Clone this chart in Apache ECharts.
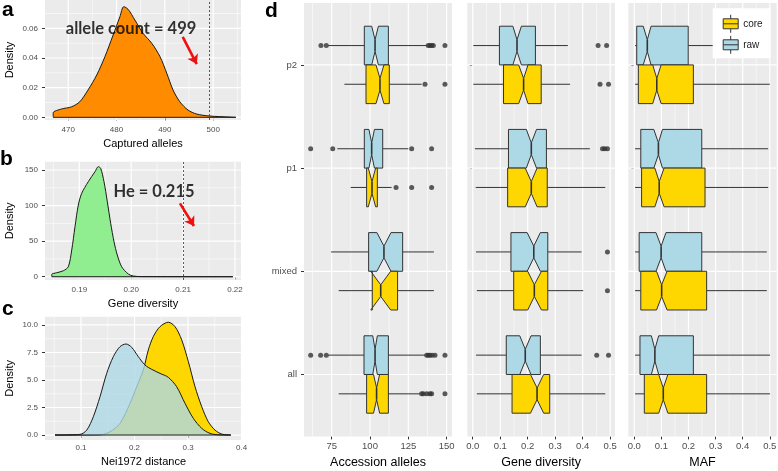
<!DOCTYPE html>
<html><head><meta charset="utf-8">
<script src="https://cdn.jsdelivr.net/npm/echarts@6/dist/echarts.min.js"></script>
<style>html,body{margin:0;padding:0;background:#fff}#c{width:778px;height:471px}</style>
</head><body><div id="c"></div>
<script>
// ---------------- data ----------------
// panel a: density of captured alleles
const A_X = [466.9, 466.9, 468.6, 470.7, 472.4, 474.1, 475.9, 477.6, 479.3, 480.7, 481.5, 482.4, 483.8, 485.5, 487.3, 489.0, 490.4, 491.7, 493.1, 494.8, 496.6, 499.2, 503.5, 504.7];
const A_Y = [0, 0.0031, 0.0056, 0.0071, 0.0105, 0.0184, 0.0285, 0.0409, 0.0555, 0.0678, 0.0746, 0.0728, 0.0656, 0.0566, 0.0499, 0.0409, 0.0297, 0.0184, 0.0105, 0.0049, 0.0022, 0.0009, 0.0002, 0];
const A_XTICKS = [470, 480, 490, 500];
const A_YTICKS = [0, 0.02, 0.04, 0.06];
const A_VLINE = 499.2;
const A_NOTE = 'allele count = 499';
const A_NOTE_AT = [483.0, 0.06];
const A_ARROW = [[493.7, 0.0543], [496.6, 0.0359]];

// panel b: density of gene diversity
const B_X = [0.1847, 0.1847, 0.18565, 0.18692, 0.18788, 0.18854, 0.18917, 0.18981, 0.19046, 0.19173, 0.19302, 0.19366, 0.19412, 0.19476, 0.1954, 0.19605, 0.19669, 0.19732, 0.19817, 0.19944, 0.2004, 0.2020, 0.2196];
const B_Y = [0, 3.5, 5.6, 8.4, 14, 37.5, 70.3, 100.8, 117.2, 133.6, 147.6, 154.7, 152.4, 133.6, 105.4, 75, 49.2, 30.5, 14, 3.8, 1, 0.2, 0];
const B_XTICKS = [0.19, 0.20, 0.21, 0.22];
const B_YTICKS = [0, 50, 100, 150];
const B_VLINE = 0.2139;
const B_NOTE = 'He = 0.215';
const B_NOTE_AT = [0.2044, 119.5];
const B_ARROW = [[0.2094, 103.2], [0.2121, 71.3]];

// panel c: Nei1972 distance densities
const C_RAW_X = [0.0514, 0.0981, 0.1107, 0.1230, 0.1355, 0.1480, 0.1604, 0.1729, 0.1841, 0.1947, 0.2071, 0.2196, 0.2321, 0.2477, 0.2632, 0.2788, 0.2944, 0.3099, 0.3256, 0.3411, 0.3598, 0.3800];
const C_RAW_Y = [0, 0.06, 0.45, 1.66, 3.48, 5.6, 7.12, 8.03, 8.27, 7.97, 7.12, 6.36, 5.97, 5.6, 5.24, 4.39, 2.88, 1.52, 0.61, 0.15, 0.01, 0];
const C_CORE_X = [0.0514, 0.1355, 0.1542, 0.1729, 0.1916, 0.2041, 0.2164, 0.2258, 0.2351, 0.2477, 0.2632, 0.2757, 0.2882, 0.3006, 0.3131, 0.3256, 0.3379, 0.3505, 0.3630, 0.3800];
const C_CORE_Y = [0, 0.02, 0.3, 1.06, 2.88, 4.39, 5.9, 7.73, 8.94, 9.85, 10.25, 9.85, 8.64, 6.67, 4.39, 2.58, 1.21, 0.45, 0.09, 0];
const C_XTICKS = [0.1, 0.2, 0.3, 0.4];
const C_YTICKS = [0, 2.5, 5, 7.5, 10];

// panel d: notched boxplots  [lowWhisker, Q1, notchLow, median, notchHigh, Q3, highWhisker]
const CATS = ['p2', 'p1', 'mixed', 'all'];
const AA_RAW = [
  [72.8, 96.3, 101.1, 103.3, 105.5, 112.0, 137.0],
  [78.7, 96.3, 99.3, 101.1, 102.9, 108.3, 125.0],
  [74.6, 99.1, 104.5, 109.1, 113.7, 121.3, 141.7],
  [72.8, 96.1, 101.8, 103.3, 104.8, 112.0, 135.9]];
const AA_CORE = [
  [83.3, 97.4, 103.9, 106.5, 109.1, 112.6, 133.7],
  [87.4, 97.8, 98.9, 101.3, 103.7, 104.8, 114.1],
  [79.6, 101.5, 100.5, 107.0, 113.5, 118.0, 141.7],
  [79.6, 97.8, 102.3, 104.3, 106.3, 112.0, 132.6]];
const AA_RAW_OUT = [[68.0, 71.5, 138.0, 139.1, 140.2, 141.3, 148.9], [61.3, 75.7, 127.2, 140.2], [], [61.3, 67.8, 71.5, 137.0, 138.0, 139.1, 140.5, 142.4, 148.9]];
const AA_CORE_OUT = [[135.9, 148.9], [117.0, 127.2, 140.2], [], [133.7, 134.8, 137.0, 139.1, 140.2, 148.9]];

const GD_RAW = [
  [0.002, 0.097, 0.146, 0.161, 0.177, 0.228, 0.346],
  [0.008, 0.130, 0.195, 0.213, 0.232, 0.268, 0.426],
  [0.012, 0.139, 0.198, 0.222, 0.246, 0.273, 0.396],
  [0.012, 0.122, 0.171, 0.191, 0.212, 0.246, 0.396]];
const GD_CORE = [
  [0.002, 0.112, 0.167, 0.185, 0.201, 0.249, 0.354],
  [0.011, 0.127, 0.191, 0.213, 0.234, 0.271, 0.482],
  [0.015, 0.149, 0.200, 0.224, 0.250, 0.273, 0.402],
  [0.015, 0.143, 0.210, 0.234, 0.258, 0.280, 0.482]];
const GD_RAW_OUT = [[0.456, 0.487], [0.472, 0.480, 0.490], [0.490], [0.451, 0.494]];
const GD_CORE_OUT = [[0.463, 0.494], [], [0.490], []];

const MAF_RAW = [
  [0.003, 0.009, 0.033, 0.048, 0.062, 0.199, 0.500],
  [0.003, 0.024, 0.072, 0.089, 0.104, 0.249, 0.494],
  [0.003, 0.018, 0.080, 0.099, 0.117, 0.249, 0.489],
  [0.003, 0.021, 0.063, 0.076, 0.090, 0.218, 0.501]];
const MAF_CORE = [
  [0.003, 0.015, 0.068, 0.083, 0.099, 0.218, 0.500],
  [0.003, 0.027, 0.076, 0.092, 0.110, 0.261, 0.494],
  [0.003, 0.024, 0.082, 0.101, 0.121, 0.267, 0.489],
  [0.003, 0.037, 0.090, 0.107, 0.124, 0.267, 0.501]];
const MAF_RAW_OUT = [[], [], [], []];
const MAF_CORE_OUT = [[], [], [], []];

const AA_TICKS = [75, 100, 125, 150];
const GD_TICKS = [0, 0.1, 0.2, 0.3, 0.4, 0.5];
const MAF_TICKS = [0, 0.1, 0.2, 0.3, 0.4, 0.5];

// ---------------- styling / layout ----------------
const FONT = "'Liberation Sans', Arial, Helvetica, sans-serif";
const LABEL_C = '#4D4D4D';
const OUTLINE = '#1a1a1a';
const BOX_HALF = 0.375;   // box thickness in category units
const NOTCH_W = 0.3;

const zip = (xs, ys) => xs.map((x, i) => [x, ys[i]]);

function minors(majors, min, max) {
  const step = majors[1] - majors[0], out = [];
  for (let k = -2; k < majors.length + 2; k++) {
    const v = majors[0] - step / 2 + k * step;
    if (v >= min && v <= max) out.push(v);
  }
  return out;
}

function gridLineSeries(gi, xr, yr, xMaj, yMaj, withMinorY) {
  const data = [];
  minors(xMaj, xr[0], xr[1]).forEach(v => data.push([0, v, 0]));
  if (withMinorY) minors(yMaj, yr[0], yr[1]).forEach(v => data.push([1, v, 0]));
  xMaj.filter(v => v >= xr[0] && v <= xr[1]).forEach(v => data.push([0, v, 1]));
  yMaj.filter(v => v >= yr[0] && v <= yr[1]).forEach(v => data.push([1, v, 1]));
  return {
    type: 'custom', xAxisIndex: gi, yAxisIndex: gi, silent: true, z: 1, data,
    renderItem(params, api) {
      const cs = params.coordSys;
      const dir = api.value(0), v = api.value(1), maj = api.value(2);
      const w = maj ? 1.2 : 0.55;
      if (dir === 0) {
        const x = api.coord([v, yr[0]])[0];
        return { type: 'line', shape: { x1: x, y1: cs.y, x2: x, y2: cs.y + cs.height }, style: { stroke: '#fff', lineWidth: w } };
      }
      const y = api.coord([xr[0], v])[1];
      return { type: 'line', shape: { x1: cs.x, y1: y, x2: cs.x + cs.width, y2: y }, style: { stroke: '#fff', lineWidth: w } };
    }
  };
}

function renderBox(params, api) {
  const c = api.value(0), d = api.value(1);
  const lo = api.value(2), q1 = api.value(3), nl = api.value(4), md = api.value(5), nh = api.value(6), q3 = api.value(7), hi = api.value(8);
  const y0 = d < 0 ? c - BOX_HALF : c, y1 = d < 0 ? c : c + BOX_HALF, ym = (y0 + y1) / 2;
  const inset = (y1 - y0) * (1 - NOTCH_W) / 2;
  const P = (v, y) => api.coord([v, y]);
  const poly = [P(q1, y0), P(nl, y0), P(md, y0 + inset), P(nh, y0), P(q3, y0), P(q3, y1), P(nh, y1), P(md, y1 - inset), P(nl, y1), P(q1, y1)];
  const a1 = P(lo, ym), a2 = P(q1, ym), b1 = P(q3, ym), b2 = P(hi, ym);
  const m1 = P(md, y0 + inset), m2 = P(md, y1 - inset);
  const ln = { stroke: '#333', lineWidth: 1 };
  return { type: 'group', children: [
    { type: 'line', shape: { x1: a1[0], y1: a1[1], x2: a2[0], y2: a2[1] }, style: ln },
    { type: 'line', shape: { x1: b1[0], y1: b1[1], x2: b2[0], y2: b2[1] }, style: ln },
    { type: 'polygon', shape: { points: poly }, style: { fill: api.visual('color'), stroke: '#333', lineWidth: 1 } },
    { type: 'line', shape: { x1: m1[0], y1: m1[1], x2: m2[0], y2: m2[1] }, style: { stroke: '#333', lineWidth: 1.6 } }
  ] };
}

function boxSeries(gi, stats, dodge, color, name) {
  return {
    type: 'custom', name, xAxisIndex: gi, yAxisIndex: gi, z: 3,
    itemStyle: { color }, renderItem: renderBox,
    encode: { x: [2, 3, 4, 5, 6, 7, 8], y: 0 },
    data: stats.map((s, i) => [i + 1, dodge].concat(s))
  };
}

function outlierSeries(gi, outs, dodge) {
  const data = [];
  outs.forEach((list, i) => list.forEach(v => data.push([v, i + 1 + dodge * BOX_HALF / 2])));
  return { type: 'scatter', xAxisIndex: gi, yAxisIndex: gi, z: 4, symbol: 'circle', symbolSize: 5,
    itemStyle: { color: '#333' }, silent: true, data };
}

function valAxis(gi, range, ticks, fmt, opts) {
  opts = opts || {};
  return Object.assign({
    type: 'value', gridIndex: gi, min: range[0], max: range[1],
    axisLine: { show: false }, splitLine: { show: false },
    axisTick: { show: true, customValues: ticks, length: 3, lineStyle: { color: '#333', width: 1 } },
    axisLabel: { show: opts.labels !== false, customValues: ticks, formatter: fmt, color: LABEL_C,
      fontSize: opts.fs || 8, margin: opts.margin || 5, fontFamily: FONT },
    nameLocation: 'middle', nameGap: opts.gap || 18,
    nameTextStyle: { color: '#000', fontSize: opts.nfs || 11, fontFamily: FONT }
  }, opts.extra || {});
}

const GRIDS = [
  { left: 45, top: 0, width: 196, height: 120 },
  { left: 45, top: 161.7, width: 196, height: 118.3 },
  { left: 45, top: 316.7, width: 197, height: 123.3 },
  { left: 304, top: 3, width: 148, height: 433.4 },
  { left: 467.3, top: 3, width: 147.7, height: 433.4 },
  { left: 628.3, top: 3, width: 148.4, height: 433.4 }
].map(g => Object.assign({ show: true, backgroundColor: '#EBEBEB', borderWidth: 0, containLabel: false, outerBoundsMode: 'none' }, g));

const RX = [[465.2, 505.76], [0.18339, 0.22116], [0.0327, 0.4009], [56.95, 153.5], [-0.0198, 0.5175], [-0.0221, 0.5255]];
const RY = [[-0.0018, 0.0791], [-4.6, 161.7], [-0.45, 10.75], [0.4, 4.6], [0.4, 4.6], [0.4, 4.6]];

const xAxes = [
  valAxis(0, RX[0], A_XTICKS, v => String(v), { extra: { name: 'Captured alleles' }, margin: 6 }),
  valAxis(1, RX[1], B_XTICKS, v => v.toFixed(2), { extra: { name: 'Gene diversity' }, margin: 6 }),
  valAxis(2, RX[2], C_XTICKS, v => v.toFixed(1), { extra: { name: 'Nei1972 distance' }, margin: 4, gap: 16 }),
  valAxis(3, RX[3], AA_TICKS, v => String(v), { extra: { name: 'Accession alleles' }, fs: 9.5, nfs: 12.5, margin: 5, gap: 18 }),
  valAxis(4, RX[4], GD_TICKS, v => v.toFixed(1), { extra: { name: 'Gene diversity' }, fs: 9.5, nfs: 12.5, margin: 5, gap: 18 }),
  valAxis(5, RX[5], MAF_TICKS, v => v.toFixed(1), { extra: { name: 'MAF' }, fs: 9.5, nfs: 12.5, margin: 5, gap: 18 })
];
const yAxes = [
  valAxis(0, RY[0], A_YTICKS, v => v.toFixed(2), { extra: { name: 'Density', nameRotate: 90 }, margin: 7, gap: 30 }),
  valAxis(1, RY[1], B_YTICKS, v => String(v), { extra: { name: 'Density', nameRotate: 90 }, margin: 7, gap: 30 }),
  valAxis(2, RY[2], C_YTICKS, v => v.toFixed(1), { extra: { name: 'Density', nameRotate: 90 }, margin: 7, gap: 30 }),
  valAxis(3, RY[3], [1, 2, 3, 4], v => CATS[Math.round(v) - 1], { extra: { inverse: true }, fs: 9.5, margin: 7 }),
  valAxis(4, RY[4], [1, 2, 3, 4], v => '', { extra: { inverse: true }, labels: false }),
  valAxis(5, RY[5], [1, 2, 3, 4], v => '', { extra: { inverse: true }, labels: false })
];

function densityLine(gi, pts, color, opacity, z) {
  return { type: 'line', xAxisIndex: gi, yAxisIndex: gi, data: pts, smooth: 0.3, showSymbol: false, silent: true,
    lineStyle: { color: OUTLINE, width: 1 }, areaStyle: { color, opacity }, z };
}
function baseLine(gi, x0, x1, marks) {
  return { type: 'line', xAxisIndex: gi, yAxisIndex: gi, data: [[x0, 0], [x1, 0]], showSymbol: false, silent: true,
    lineStyle: { color: OUTLINE, width: 1 }, z: 5, markLine: marks };
}
function marks(vline, arrow) {
  return { silent: true, animation: false, label: { show: false }, symbol: ['none', 'none'],
    lineStyle: { type: [2, 2], color: '#333', width: 0.8 },
    data: [
      { xAxis: vline },
      [{ coord: arrow[0], symbol: 'none', lineStyle: { type: 'solid', color: '#F01010', width: 2.6 } },
       { coord: arrow[1], symbol: 'arrow', symbolSize: 9 }]
    ] };
}
function note(gi, at, text) {
  return { type: 'scatter', xAxisIndex: gi, yAxisIndex: gi, data: [at], symbolSize: 1, silent: true, z: 6,
    itemStyle: { color: 'rgba(0,0,0,0)' },
    label: { show: true, position: 'inside', formatter: text, color: '#000', fontSize: 16.5, fontWeight: 'bold', fontFamily: 'Lato, ' + FONT } };
}

const series = [
  gridLineSeries(0, RX[0], RY[0], A_XTICKS, A_YTICKS, true),
  densityLine(0, zip(A_X, A_Y), '#FF8C00', 1, 2),
  baseLine(0, A_X[0], A_X[A_X.length - 1], marks(A_VLINE, A_ARROW)),
  note(0, A_NOTE_AT, A_NOTE),

  gridLineSeries(1, RX[1], RY[1], B_XTICKS, B_YTICKS, true),
  densityLine(1, zip(B_X, B_Y), '#90EE90', 1, 2),
  baseLine(1, B_X[0], B_X[B_X.length - 1], marks(B_VLINE, B_ARROW)),
  note(1, B_NOTE_AT, B_NOTE),

  gridLineSeries(2, RX[2], RY[2], C_XTICKS, C_YTICKS, true),
  densityLine(2, zip(C_CORE_X, C_CORE_Y), '#FFD700', 1, 2),
  densityLine(2, zip(C_RAW_X, C_RAW_Y), '#ADD8E6', 0.8, 3),
  baseLine(2, C_RAW_X[0], C_RAW_X[C_RAW_X.length - 1], null)
];

[[AA_RAW, AA_CORE, AA_RAW_OUT, AA_CORE_OUT, AA_TICKS],
 [GD_RAW, GD_CORE, GD_RAW_OUT, GD_CORE_OUT, GD_TICKS],
 [MAF_RAW, MAF_CORE, MAF_RAW_OUT, MAF_CORE_OUT, MAF_TICKS]].forEach((p, k) => {
  const gi = 3 + k;
  series.push(gridLineSeries(gi, RX[gi], RY[gi], p[4], [1, 2, 3, 4], false));
  series.push(boxSeries(gi, p[0], -1, '#ADD8E6', 'raw'));
  series.push(boxSeries(gi, p[1], 1, '#FFD700', 'core'));
  series.push(outlierSeries(gi, p[2], -1));
  series.push(outlierSeries(gi, p[3], 1));
});

const ICON = 'path://M7.5,0 L7.5,4 M0,4 L15,4 L15,14 L0,14 Z M0,9 L15,9 M7.5,14 L7.5,18';

const chart = echarts.init(document.getElementById('c'), null, { renderer: 'canvas' });
chart.setOption({
  animation: false,
  backgroundColor: '#fff',
  grid: GRIDS,
  xAxis: xAxes,
  yAxis: yAxes,
  legend: {
    data: [{ name: 'core', icon: ICON }, { name: 'raw', icon: ICON }],
    orient: 'vertical', left: 712.7, top: 8.3, padding: [6, 8, 4, 10],
    itemWidth: 15, itemHeight: 18, itemGap: 2, selectedMode: false,
    backgroundColor: '#fff',
    itemStyle: { borderColor: '#333', borderWidth: 1 },
    textStyle: { fontSize: 10, color: '#1a1a1a', fontFamily: FONT }
  },
  graphic: [
    { type: 'text', style: { text: 'a', x: 2, y: 10, font: 'bold 21px ' + FONT, fill: '#000', verticalAlign: 'middle' } },
    { type: 'text', style: { text: 'b', x: 0, y: 159.4, font: 'bold 21px ' + FONT, fill: '#000', verticalAlign: 'middle' } },
    { type: 'text', style: { text: 'c', x: 2, y: 309.4, font: 'bold 21px ' + FONT, fill: '#000', verticalAlign: 'middle' } },
    { type: 'text', style: { text: 'd', x: 265, y: 11, font: 'bold 21px ' + FONT, fill: '#000', verticalAlign: 'middle' } }
  ],
  series
});
</script>
</body></html>
